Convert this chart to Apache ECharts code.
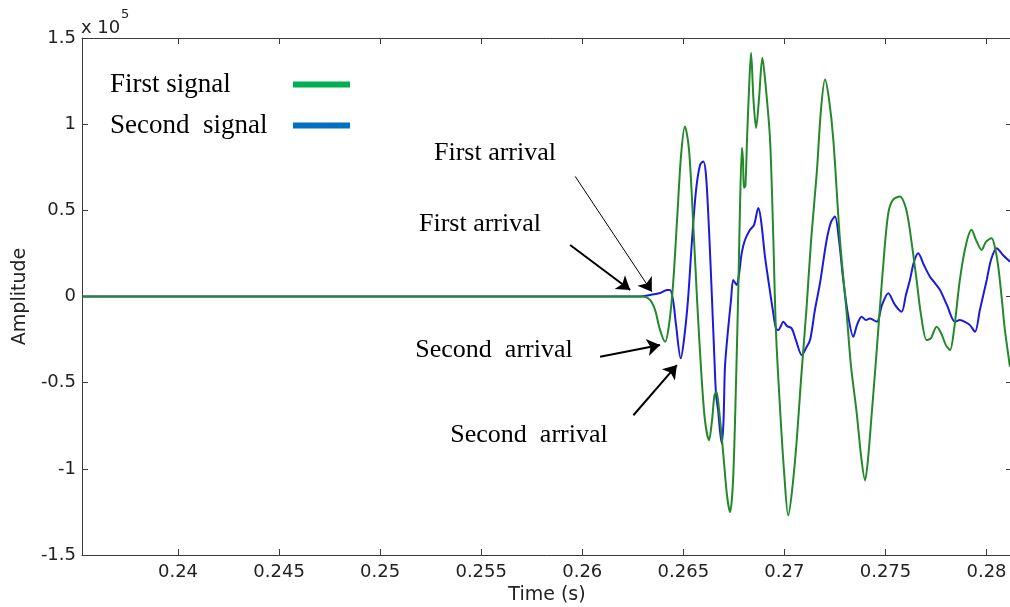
<!DOCTYPE html>
<html><head><meta charset="utf-8">
<script src="https://cdn.jsdelivr.net/npm/echarts@6/dist/echarts.min.js"></script>
<style>html,body{margin:0;padding:0;background:#fff}#c{width:1010px;height:607px}</style>
</head><body><div id="c"></div>
<script>
// ---- data (time in s, amplitude in units of 1e5) ----
const seriesNames = ['First signal', 'Second  signal'];
const firstSignal = [
[0.23526,0],[0.26301,0],[0.26335,-0.020],[0.26360,-0.078],[0.26385,-0.195],[0.26410,-0.263],
[0.26429,-0.166],[0.26449,0.067],[0.26469,0.445],[0.26489,0.823],[0.26508,0.987],[0.26528,0.852],
[0.26548,0.445],[0.26568,-0.020],[0.26588,-0.427],[0.26607,-0.718],[0.26627,-0.834],[0.26642,-0.718],
[0.26654,-0.573],[0.26664,-0.553],[0.26677,-0.660],[0.26696,-0.892],[0.26716,-1.154],[0.26731,-1.251],
[0.26746,-1.067],[0.26761,-0.485],[0.26773,0.096],[0.26780,0.503],[0.26790,0.863],[0.26795,0.794],
[0.26800,0.631],[0.26807,0.642],[0.26815,0.910],[0.26825,1.201],[0.26835,1.414],[0.26847,1.142],
[0.26860,0.978],[0.26874,1.142],[0.26891,1.385],[0.26909,1.201],[0.26929,0.910],[0.26944,0.387],
[0.26958,-0.195],[0.26978,-0.641],[0.26998,-1.009],[0.27019,-1.270],[0.27038,-1.125],[0.27061,-0.834],
[0.27082,-0.485],[0.27110,-0.059],[0.27132,0.327],[0.27160,0.716],[0.27181,1.084],[0.27201,1.259],
[0.27221,1.142],[0.27242,0.910],[0.27275,0.327],[0.27308,-0.098],[0.27329,-0.398],[0.27358,-0.679],
[0.27379,-0.922],[0.27399,-1.067],[0.27413,-0.951],[0.27432,-0.679],[0.27453,-0.369],[0.27473,-0.059],
[0.27493,0.241],[0.27514,0.484],[0.27537,0.561],[0.27572,0.580],[0.27596,0.532],[0.27613,0.445],
[0.27631,0.299],[0.27654,0.096],[0.27676,-0.108],[0.27704,-0.253],[0.27725,-0.241],[0.27753,-0.176],
[0.27775,-0.212],[0.27799,-0.282],[0.27819,-0.311],[0.27839,-0.195],[0.27868,0.096],[0.27898,0.299],
[0.27926,0.387],[0.27948,0.328],[0.27976,0.270],[0.27997,0.317],[0.28025,0.338],[0.28042,0.282],
[0.28058,0.173],[0.28076,-0.020],[0.28091,-0.195],[0.28116,-0.408]
];
const secondSignal = [
[0.23526,0],[0.26286,0],[0.26335,0.009],[0.26385,0.020],[0.26419,0.038],[0.26434,0.038],
[0.26449,-0.020],[0.26464,-0.166],[0.26487,-0.359],[0.26503,-0.253],[0.26523,-0.020],[0.26543,0.328],
[0.26563,0.619],[0.26583,0.765],[0.26599,0.784],[0.26612,0.706],[0.26627,0.387],[0.26642,-0.020],
[0.26652,-0.311],[0.26662,-0.573],[0.26672,-0.660],[0.26681,-0.776],[0.26690,-0.853],[0.26699,-0.718],
[0.26706,-0.408],[0.26721,-0.195],[0.26736,-0.020],[0.26747,0.096],[0.26764,0.067],[0.26775,0.125],
[0.26789,0.253],[0.26805,0.328],[0.26830,0.387],[0.26850,0.416],[0.26871,0.513],[0.26884,0.445],
[0.26904,0.231],[0.26924,0.067],[0.26945,-0.098],[0.26958,-0.183],[0.26970,-0.195],[0.26995,-0.147],
[0.27013,-0.172],[0.27036,-0.185],[0.27057,-0.253],[0.27086,-0.340],[0.27107,-0.299],[0.27127,-0.253],
[0.27151,-0.078],[0.27176,0.077],[0.27209,0.328],[0.27231,0.433],[0.27250,0.464],[0.27270,0.328],
[0.27291,0.096],[0.27315,-0.108],[0.27341,-0.234],[0.27359,-0.166],[0.27382,-0.117],[0.27404,-0.137],
[0.27423,-0.127],[0.27457,-0.147],[0.27483,-0.049],[0.27514,0.019],[0.27547,-0.049],[0.27580,-0.088],
[0.27601,0.009],[0.27621,0.096],[0.27641,0.201],[0.27662,0.251],[0.27690,0.183],[0.27720,0.115],
[0.27745,0.078],[0.27770,0.038],[0.27804,-0.049],[0.27844,-0.147],[0.27868,-0.137],[0.27893,-0.147],
[0.27918,-0.166],[0.27943,-0.205],[0.27967,-0.078],[0.28001,0.096],[0.28022,0.212],[0.28050,0.280],
[0.28081,0.241],[0.28116,0.202]
];
const timeRange = [0.23525, 0.28126];
const ampRange = [-1.5, 1.5];
const ampStep = 0.5;
const timeStep = 0.005;
// annotation arrows: [from, to] in data coordinates
const arrowLabels = ['First arrival', 'First arrival', 'Second  arrival', 'Second  arrival'];
const arrowPaths = [
  [[0.25965, 0.697], [0.26344, 0.028]],
  [[0.25940, 0.299], [0.26237, 0.038]],
  [[0.26088, -0.350], [0.26385, -0.282]],
  [[0.26253, -0.689], [0.26468, -0.398]]
];

// ---- styles ----
const arrowWidths = [1, 2, 2, 2];
const labelPos = [[495, 153], [480, 224], [494, 350], [529, 435]];
const AX = '#3a3a3a';
const sansTick = {fontFamily: 'DejaVu Sans', fontSize: 18, color: '#222'};
const serif = '"Liberation Serif", "Times New Roman", serif';

const chart = echarts.init(document.getElementById('c'), null, {renderer: 'canvas'});

function fmtTime(v) {
  const k = v / timeStep;
  if (Math.abs(k - Math.round(k)) > 1e-6) return '';
  return String(+v.toFixed(3));
}

const markLineData = arrowPaths.map((p, i) => [
  {coord: p[0], lineStyle: {width: arrowWidths[i], color: '#000', type: 'solid'}},
  {coord: p[1]}
]);

const option = {
  animation: false,
  backgroundColor: '#fff',
  grid: {left: 82, right: -2, top: 38, bottom: 52, containLabel: false, outerBoundsMode: 'none'},
  legend: {
    orient: 'vertical', left: 110, top: 71, align: 'right', padding: 0,
    icon: 'rect', itemWidth: 57, itemHeight: 6, itemGap: 14,
    selectedMode: false,
    data: [
      {name: seriesNames[0], itemStyle: {color: '#00B050'}},
      {name: seriesNames[1], itemStyle: {color: '#0070C0'}}
    ],
    formatter: n => '{t|' + n + '}',
    textStyle: {
      rich: {t: {width: 178, align: 'left', fontFamily: serif, fontSize: 27, color: '#000', lineHeight: 28}}
    }
  },
  xAxis: [{
    type: 'value', min: timeRange[0], max: timeRange[1], splitNumber: 9, position: 'bottom',
    axisLine: {show: true, onZero: false, lineStyle: {color: AX, width: 1}},
    axisTick: {show: true, inside: true, length: 6, lineStyle: {color: AX}},
    splitLine: {show: false},
    axisLabel: Object.assign({margin: 8, formatter: fmtTime, showMinLabel: true, showMaxLabel: true}, sansTick),
    name: 'Time (s)', nameLocation: 'middle', nameGap: 29,
    nameTextStyle: {fontFamily: 'DejaVu Sans', fontSize: 19, color: '#222'}
  }, {
    type: 'value', min: timeRange[0], max: timeRange[1], splitNumber: 9, position: 'top',
    axisLine: {show: true, onZero: false, lineStyle: {color: AX, width: 1}},
    axisTick: {show: true, inside: true, length: 6, lineStyle: {color: AX}},
    splitLine: {show: false}, axisLabel: {show: false}
  }],
  yAxis: [{
    type: 'value', min: ampRange[0], max: ampRange[1], interval: ampStep,
    axisLine: {show: true, onZero: false, lineStyle: {color: AX, width: 1}},
    axisTick: {show: true, inside: true, length: 6, lineStyle: {color: AX}},
    splitLine: {show: false},
    axisLabel: Object.assign({margin: 6}, sansTick),
    name: 'Amplitude', nameLocation: 'middle', nameGap: 47,
    nameTextStyle: {fontFamily: 'DejaVu Sans', fontSize: 19, color: '#222'}
  }, {
    type: 'value', min: ampRange[0], max: ampRange[1], interval: ampStep, position: 'right',
    axisLine: {show: true, onZero: false, lineStyle: {color: AX, width: 1}},
    axisTick: {show: true, inside: true, length: 6, lineStyle: {color: AX}},
    splitLine: {show: false}, axisLabel: {show: false}
  }],
  series: [{
    name: seriesNames[1], type: 'line', data: secondSignal, showSymbol: false, smooth: 0.3,
    lineStyle: {color: '#1a1ae0', width: 2}, itemStyle: {color: '#0070C0'}, z: 2,
    markLine: {
      silent: true, symbol: ['none', 'arrow'], symbolSize: 13, label: {show: false},
      animation: false, data: markLineData
    }
  }, {
    name: seriesNames[0], type: 'line', data: firstSignal, showSymbol: false, smooth: 0.3,
    lineStyle: {color: '#23892a', width: 2}, itemStyle: {color: '#00B050'}, z: 3
  }],
  graphic: [
    {type: 'text', x: 81, y: 28, style: {text: 'x 10', fill: '#222', font: '18px "DejaVu Sans"', verticalAlign: 'middle'}},
    {type: 'text', x: 121, y: 15, style: {text: '5', fill: '#222', font: '13px "DejaVu Sans"', verticalAlign: 'middle'}}
  ].concat(arrowLabels.map((t, i) => ({
    type: 'text', x: labelPos[i][0], y: labelPos[i][1], z: 10,
    style: {text: t, fill: '#000', font: '26px ' + serif, align: 'center', verticalAlign: 'middle'}
  })))
};
chart.setOption(option);
</script>
</body></html>
